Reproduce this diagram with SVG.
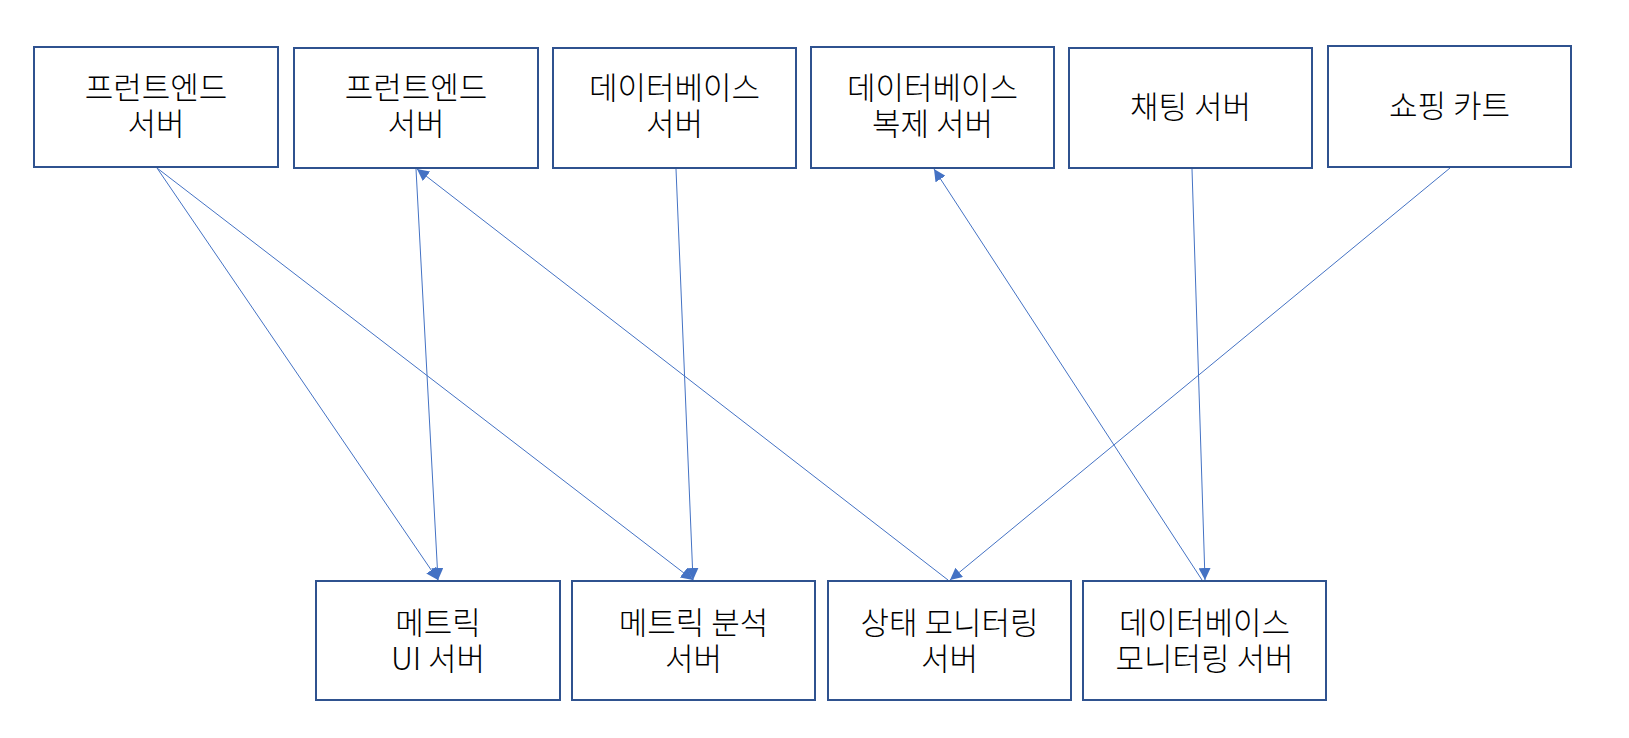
<svg xmlns="http://www.w3.org/2000/svg" width="1629" height="738" viewBox="0 0 1629 738">
<style>
.box{fill:#fff;stroke:#2F528F;stroke-width:2}
.t{font-family:"Malgun Gothic","Noto Sans CJK KR",sans-serif;font-size:31px;font-weight:300;fill:#000;text-anchor:middle}
.c{stroke:#4472C4;stroke-width:1;fill:none}
</style>
<defs>
<marker id="ah" markerUnits="userSpaceOnUse" markerWidth="14" markerHeight="12" refX="12" refY="6" orient="auto">
<path d="M0,0 L12,6 L0,12 Z" fill="#4472C4"/>
</marker>
</defs>
<rect width="1629" height="738" fill="#fff"/>
<g id="connectors">
<line class="c" x1="157" y1="168" x2="438" y2="580" marker-end="url(#ah)"/>
<line class="c" x1="157" y1="168" x2="693" y2="580" marker-end="url(#ah)"/>
<line class="c" x1="416" y1="169" x2="438" y2="580" marker-end="url(#ah)"/>
<line class="c" x1="676" y1="169" x2="693" y2="580" marker-end="url(#ah)"/>
<line class="c" x1="948" y1="580" x2="417" y2="169" marker-end="url(#ah)"/>
<line class="c" x1="1450" y1="168" x2="950" y2="580" marker-end="url(#ah)"/>
<line class="c" x1="1202" y1="580" x2="934" y2="169" marker-end="url(#ah)"/>
<line class="c" x1="1192" y1="169" x2="1205" y2="580" marker-end="url(#ah)"/>
</g>
<g id="n1"><rect class="box" x="34" y="47" width="244" height="120"/><text class="t" x="156" y="99">프런트엔드</text><text class="t" x="156" y="135">서버</text></g>
<g id="n2"><rect class="box" x="294" y="48" width="244" height="120"/><text class="t" x="416" y="99">프런트엔드</text><text class="t" x="416" y="135">서버</text></g>
<g id="n3"><rect class="box" x="553" y="48" width="243" height="120"/><text class="t" x="674.5" y="99">데이터베이스</text><text class="t" x="674.5" y="135">서버</text></g>
<g id="n4"><rect class="box" x="811" y="47" width="243" height="121"/><text class="t" x="932.5" y="99">데이터베이스</text><text class="t" x="932.5" y="135">복제 서버</text></g>
<g id="n5"><rect class="box" x="1069" y="48" width="243" height="120"/><text class="t" x="1190.5" y="118">채팅 서버</text></g>
<g id="n6"><rect class="box" x="1328" y="46" width="243" height="121"/><text class="t" x="1449.5" y="117">쇼핑 카트</text></g>
<g id="n7"><rect class="box" x="316" y="581" width="244" height="119"/><text class="t" x="438" y="634">메트릭</text><text class="t" x="438" y="670">UI 서버</text></g>
<g id="n8"><rect class="box" x="572" y="581" width="243" height="119"/><text class="t" x="693.5" y="634">메트릭 분석</text><text class="t" x="693.5" y="670">서버</text></g>
<g id="n9"><rect class="box" x="828" y="581" width="243" height="119"/><text class="t" x="949.5" y="634">상태 모니터링</text><text class="t" x="949.5" y="670">서버</text></g>
<g id="n10"><rect class="box" x="1083" y="581" width="243" height="119"/><text class="t" x="1204.5" y="634">데이터베이스</text><text class="t" x="1204.5" y="670">모니터링 서버</text></g>
</svg>
